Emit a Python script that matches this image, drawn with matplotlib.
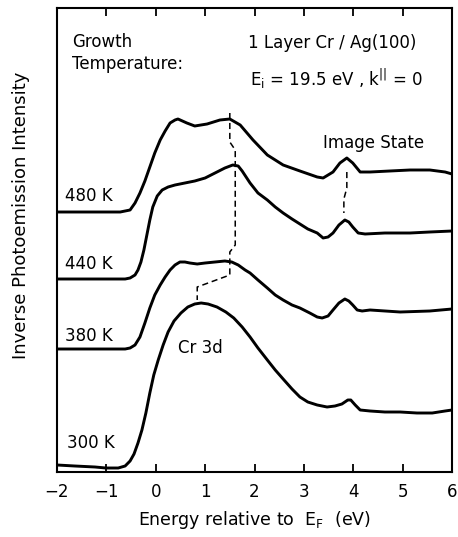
import matplotlib
matplotlib.use('Agg')
import matplotlib.pyplot as plt

plt.rcParams['font.family'] = ['DejaVu Sans']
plt.rcParams['mathtext.default'] = 'regular'

# energy relative to E_F (eV) and intensity (arb. units, offset spectra)
e_480 = [-2.00, -1.53, -1.13, -0.72, -0.62, -0.52, -0.42, -0.32, -0.22, -0.12, -0.02, 0.09, 0.19, 0.29,
         0.39, 0.45, 0.63, 0.79, 1.04, 1.30, 1.50, 1.71, 1.97, 2.26, 2.58, 2.92, 3.27, 3.39, 3.59, 3.73,
         3.87, 3.99, 4.14, 4.34, 4.74, 5.15, 5.55, 5.86, 6.00]
i_480 = [2.60, 2.60, 2.60, 2.60, 2.61, 2.62, 2.69, 2.79, 2.91, 3.05, 3.19, 3.32, 3.41, 3.49,
         3.52, 3.53, 3.49, 3.46, 3.48, 3.52, 3.53, 3.47, 3.32, 3.17, 3.07, 3.01, 2.95, 2.94, 3.00, 3.09,
         3.14, 3.09, 3.00, 3.00, 3.01, 3.02, 3.02, 3.00, 2.98]

e_440 = [-2.00, -1.13, -0.62, -0.52, -0.42, -0.36, -0.30, -0.24, -0.18, -0.12, -0.06, 0.03, 0.13, 0.25,
         0.39, 0.59, 0.79, 1.00, 1.20, 1.40, 1.56, 1.67, 1.75, 1.91, 2.07, 2.26, 2.42, 2.58, 2.76, 2.92,
         3.08, 3.27, 3.39, 3.49, 3.59, 3.71, 3.83, 3.91, 3.99, 4.10, 4.24, 4.64, 5.15, 5.55, 6.00]
i_440 = [1.93, 1.93, 1.93, 1.94, 1.97, 2.02, 2.10, 2.22, 2.37, 2.52, 2.65, 2.76, 2.82, 2.85,
         2.87, 2.89, 2.91, 2.94, 2.99, 3.04, 3.07, 3.06, 3.01, 2.89, 2.79, 2.72, 2.65, 2.59, 2.53, 2.48,
         2.43, 2.39, 2.34, 2.35, 2.39, 2.47, 2.52, 2.50, 2.45, 2.39, 2.38, 2.39, 2.39, 2.40, 2.41]

e_380 = [-2.00, -1.13, -0.62, -0.52, -0.42, -0.32, -0.22, -0.12, -0.02, 0.09, 0.19, 0.29, 0.39, 0.49,
         0.59, 0.69, 0.84, 1.00, 1.20, 1.40, 1.54, 1.67, 1.81, 1.91, 2.07, 2.26, 2.42, 2.58, 2.76, 2.92,
         3.12, 3.27, 3.37, 3.49, 3.59, 3.71, 3.83, 3.91, 3.99, 4.08, 4.18, 4.34, 4.95, 5.55, 6.00]
i_380 = [1.23, 1.23, 1.23, 1.24, 1.27, 1.35, 1.49, 1.64, 1.77, 1.87, 1.95, 2.02, 2.07, 2.10,
         2.10, 2.09, 2.08, 2.09, 2.10, 2.11, 2.10, 2.07, 2.02, 1.99, 1.92, 1.84, 1.77, 1.72, 1.67, 1.64,
         1.59, 1.55, 1.54, 1.56, 1.62, 1.69, 1.73, 1.71, 1.67, 1.62, 1.61, 1.62, 1.60, 1.61, 1.63]

e_300 = [-2.00, -1.64, -1.23, -1.01, -0.76, -0.62, -0.52, -0.44, -0.36, -0.28, -0.20, -0.12, -0.04, 0.05,
         0.15, 0.25, 0.37, 0.51, 0.65, 0.79, 0.92, 1.06, 1.24, 1.42, 1.58, 1.75, 1.91, 2.07, 2.26, 2.42,
         2.58, 2.76, 2.92, 3.08, 3.27, 3.47, 3.63, 3.77, 3.89, 3.95, 4.04, 4.14, 4.34, 4.64, 4.95, 5.29,
         5.60, 5.86, 6.00]
i_300 = [0.07, 0.06, 0.05, 0.04, 0.04, 0.06, 0.11, 0.18, 0.29, 0.42, 0.59, 0.79, 0.97, 1.12,
         1.27, 1.40, 1.51, 1.59, 1.65, 1.68, 1.69, 1.68, 1.65, 1.60, 1.54, 1.45, 1.35, 1.24, 1.12, 1.02,
         0.93, 0.83, 0.75, 0.70, 0.67, 0.65, 0.66, 0.68, 0.72, 0.72, 0.67, 0.62, 0.61, 0.60, 0.60, 0.59,
         0.59, 0.61, 0.62]

# guide lines tracking the Cr 3d peak and the image state
e_cr3d = [1.50, 1.50, 1.61, 1.61, 1.50, 1.50, 0.84, 0.84]
i_cr3d = [3.59, 3.30, 3.22, 2.27, 2.20, 1.97, 1.85, 1.72]
e_img = [3.87, 3.87, 3.81, 3.81]
i_img = [3.00, 2.84, 2.73, 2.59]

temp_labels = ['480 K', '440 K', '380 K', '300 K']
temp_label_pos = [(-1.84, 2.76), (-1.84, 2.08), (-1.84, 1.36), (-1.80, 0.29)]

fig = plt.figure(figsize=(4.58, 5.37), dpi=100)
ax = fig.add_axes([57 / 458, 65 / 537, 395 / 458, 464 / 537])

for e, i in [(e_480, i_480), (e_440, i_440), (e_380, i_380), (e_300, i_300)]:
    ax.plot(e, i, color='black', lw=2.1, solid_joinstyle='round')

ax.plot(e_cr3d, i_cr3d, color='black', lw=1.1, linestyle=(0, (4, 2.5)))
ax.plot(e_img, i_img, color='black', lw=1.1, linestyle=(0, (4, 2.5)))

ax.set_xlim(-2, 6)
ax.set_ylim(0, 4.64)
ax.set_xticks(range(-2, 7))
ax.set_xticklabels(['\u22122', '\u22121', '0', '1', '2', '3', '4', '5', '6'])
ax.set_yticks([])
ax.tick_params(axis='x', direction='in', length=6, width=1.3, top=True, labelsize=12, pad=8)
for s in ax.spines.values():
    s.set_linewidth(1.5)

fs = 12
for lab, (x, y) in zip(temp_labels, temp_label_pos):
    ax.text(x, y, lab, fontsize=fs, va='center', ha='left')

ax.text(-1.70, 4.19, 'Growth\nTemperature:', fontsize=fs, va='center', ha='left', linespacing=1.3)
ax.text(1.87, 4.29, '1 Layer Cr / Ag(100)', fontsize=fs, va='center', ha='left')
ax.text(1.91, 3.93, r'E$_{i}$ = 19.5 eV , k$^{||}$ = 0', fontsize=fs, va='center', ha='left')
ax.text(3.39, 3.29, 'Image State', fontsize=fs, va='center', ha='left')
ax.text(0.45, 1.24, 'Cr 3d', fontsize=fs, va='center', ha='left')

ax.set_xlabel(r'Energy relative to  E$_F$  (eV)', fontsize=12.5, labelpad=6)
ax.set_ylabel('Inverse Photoemission Intensity', fontsize=13)
ax.yaxis.set_label_coords(-0.068, 0.554)

fig.savefig('out.png', dpi=100)
